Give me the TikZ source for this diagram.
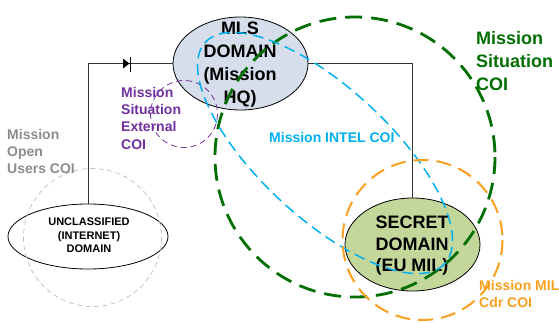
\documentclass[tikz,border=0pt]{standalone}
\usepackage{fontspec}
\setmainfont{Liberation Sans}
\usetikzlibrary{shapes.geometric}
\definecolor{mlsfill}{RGB}{213,222,234}
\definecolor{secfill}{RGB}{196,215,155}
\definecolor{coigreen}{RGB}{0,110,0}
\definecolor{coiblue}{RGB}{0,176,240}
\definecolor{coiorange}{RGB}{250,160,30}
\definecolor{coipurple}{RGB}{112,48,160}
\definecolor{coigray}{RGB}{190,190,190}
\definecolor{labelgray}{RGB}{140,140,140}
\begin{document}
\begin{tikzpicture}[x=1pt,y=-1pt,
  domainbox/.style={ellipse, draw=black, line width=0.8pt, inner sep=0pt, outer sep=0pt},
  bigtext/.style={font=\bfseries\fontsize{18}{22.7}\selectfont, align=center, anchor=base, inner sep=0pt},
  smalltext/.style={font=\bfseries\fontsize{11}{13.5}\selectfont, align=center, anchor=base, inner sep=0pt},
  coilabel/.style={font=\bfseries\fontsize{14}{17.2}\selectfont, align=left, anchor=base west, inner sep=0pt},
  biglabel/.style={font=\bfseries\fontsize{18}{23}\selectfont, align=left, anchor=base west, inner sep=0pt},
  link/.style={draw=black!80, line width=0.7pt},
]
\useasboundingbox (0,0) rectangle (559,322);

% security domains
\node[domainbox, fill=white, minimum width=160pt, minimum height=65pt] (unc) at (88,236.5) {};
\node[domainbox, fill=mlsfill, minimum width=135pt, minimum height=93pt] (mls) at (240.5,63.5) {};
\node[domainbox, fill=secfill, minimum width=135pt, minimum height=93pt] (sec) at (412.5,244.5) {};

% network links
\draw[link] (unc.north) |- (mls.west);
\draw[link] (mls.east) -| (sec.north);

% one-way diode on the unclassified link
\fill[black] (129.5,63.5) -- (123,58.5) -- (123,68.5) -- cycle;
\draw[black, line width=1pt] (130,56.5) -- (130,71.5);

% domain captions (placed by the baseline of their last line)
\node[bigtext] (mlstext) at (240,103) {MLS\\DOMAIN\\(Mission\\HQ)};
\node[bigtext, font=\bfseries\fontsize{18}{21.5}\selectfont] (sectext) at (412,271.5) {SECRET\\DOMAIN\\(EU MIL)};
\node[smalltext] (unctext) at (89,252.7) {UNCLASSIFIED\\(INTERNET)\\DOMAIN};

% communities of interest
\draw[coigray, line width=0.7pt, dash pattern=on 5pt off 3.5pt] (92.5,237.5) circle [radius=69];
\draw[coipurple, line width=0.8pt, dash pattern=on 6pt off 4pt] (184,114) circle [radius=33.5];
\draw[coigreen, line width=2.8pt, dash pattern=on 17pt off 9pt] (355,157) circle [radius=140];
\draw[coiblue, line width=1.5pt, dash pattern=on 11pt off 6pt, rotate around={-42.8:(325,153)}] (325,153) ellipse [x radius=163, y radius=65];
\draw[coiorange, line width=2pt, dash pattern=on 15pt off 8pt] (422.5,240) circle [radius=80];

% COI labels
\node[coilabel, text=labelgray] (openlbl) at (7,173.4) {Mission\\Open\\Users COI};
\node[coilabel, text=coipurple] (extlbl) at (121,149.1) {Mission\\Situation\\External\\COI};
\node[coilabel, text=coiblue] (intellbl) at (269,142) {Mission INTEL COI};
\node[coilabel, text=coiorange] (millbl) at (479,307.7) {Mission MIL\\Cdr COI};
\node[biglabel, text=coigreen] (sitlbl) at (476,90.5) {Mission\\Situation\\COI};
\end{tikzpicture}
\end{document}
